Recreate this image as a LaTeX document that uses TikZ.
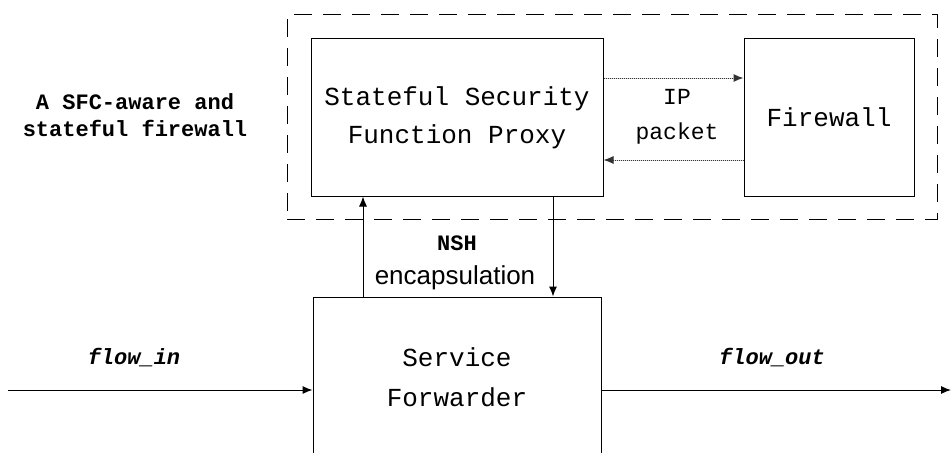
\documentclass[tikz,border=0pt]{standalone}
\usepackage{fontspec}
\setmainfont{Liberation Mono}
\newfontfamily\sansfont{Liberation Sans}
\usetikzlibrary{arrows.meta}
\tikzset{
  box/.style={draw, line width=1pt, inner sep=0pt, align=center, font=\fontsize{26pt}{38pt}\selectfont},
  arr/.style={-{Latex[length=10pt,width=8pt]}, line width=1pt},
  dotarr/.style={-{Latex[length=10pt,width=8pt]}, line width=1pt, densely dotted, draw=black!80, fill=black}
}
\begin{document}
\begin{tikzpicture}[x=1pt,y=-1pt]
\useasboundingbox (0,0) rectangle (952,452);
\clip (0,0) rectangle (952,452);

% dashed group
\node (grp) [draw, line width=1pt, dash pattern=on 18pt off 11pt, minimum width=650pt, minimum height=204pt] at (612,117) {};
\node (cap) [align=center, font=\fontsize{22pt}{27pt}\selectfont\bfseries] at (135,115) {A SFC-aware and\\stateful firewall};

% boxes
\node (ssfp) [box, minimum width=292pt, minimum height=157pt] at (457,117.5) {Stateful Security\\Function Proxy};
\node (fw) [box, minimum width=170pt, minimum height=157pt] at (829,117.5) {Firewall};
\node (sf) [box, minimum width=288pt, minimum height=161pt, font=\fontsize{26pt}{40pt}\selectfont] at (457,377.5) {Service\\Forwarder};

% labels
\node (ip) [align=center, font=\fontsize{23pt}{35pt}\selectfont] at (677,117) {IP\\packet};
\node (nsh) [font=\fontsize{22pt}{26pt}\selectfont\bfseries] at (457,243) {NSH};
\node (encap) [font=\sansfont\fontsize{26pt}{30pt}\selectfont] at (455,278) {encapsulation};
\node (lin) [font=\fontsize{22pt}{26pt}\selectfont\bfseries\itshape] at (134,358) {flow\_in};
\node (lout) [font=\fontsize{22pt}{26pt}\selectfont\bfseries\itshape] at (772,358) {flow\_out};

% connectors
\coordinate (src) at (8,390);
\coordinate (dst) at (951,390);
\coordinate (upx) at (363,0);
\coordinate (dnx) at (553,0);
\draw [arr] (src) -- (src -| sf.west);
\draw [arr] (sf.east |- dst) -- (dst);
\draw [arr] (sf.north -| upx) -- (ssfp.south -| upx);
\draw [arr] (ssfp.south -| dnx) -- (sf.north -| dnx);
\draw [dotarr] ([yshift=39.5pt]ssfp.east) -- ([yshift=39.5pt]ssfp.east -| fw.west);
\draw [dotarr] ([yshift=-42.5pt]fw.west) -- ([yshift=-42.5pt]fw.west -| ssfp.east);
\end{tikzpicture}
\end{document}
